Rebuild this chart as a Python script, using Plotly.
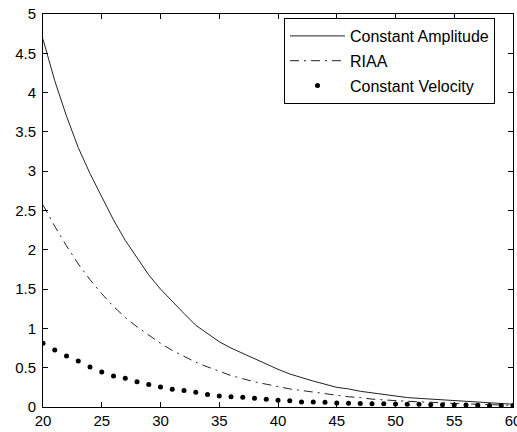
import plotly.graph_objects as go

x = list(range(20, 61))

constant_amplitude = [4.68, 4.15, 3.70, 3.30, 2.97, 2.67, 2.38, 2.12, 1.90, 1.68,
                      1.50, 1.34, 1.19, 1.04, 0.93, 0.83, 0.75, 0.68, 0.61, 0.54,
                      0.48, 0.42, 0.37, 0.33, 0.29, 0.25, 0.23, 0.20, 0.18, 0.16,
                      0.14, 0.12, 0.11, 0.10, 0.09, 0.08, 0.07, 0.06, 0.05, 0.04, 0.035]

riaa = [2.57, 2.30, 2.05, 1.82, 1.62, 1.44, 1.28, 1.14, 1.02, 0.91,
        0.81, 0.72, 0.64, 0.57, 0.51, 0.45, 0.40, 0.36, 0.32, 0.29,
        0.26, 0.23, 0.21, 0.19, 0.17, 0.15, 0.13, 0.12, 0.10, 0.09,
        0.08, 0.07, 0.065, 0.06, 0.05, 0.045, 0.04, 0.035, 0.03, 0.025, 0.02]

constant_velocity = [0.81, 0.725, 0.65, 0.585, 0.51, 0.445, 0.395, 0.365, 0.32, 0.285,
                     0.255, 0.225, 0.21, 0.187, 0.16, 0.14, 0.13, 0.125, 0.11, 0.10,
                     0.085, 0.08, 0.065, 0.064, 0.06, 0.05, 0.047, 0.045, 0.042, 0.04,
                     0.038, 0.036, 0.034, 0.03, 0.028, 0.026, 0.024, 0.022, 0.02, 0.019, 0.018]

series_names = ["Constant Amplitude", "RIAA", "Constant Velocity"]
x_ticks = [20, 25, 30, 35, 40, 45, 50, 55, 60]
y_ticks = [0, 0.5, 1, 1.5, 2, 2.5, 3, 3.5, 4, 4.5, 5]

fig = go.Figure()
fig.add_trace(go.Scatter(x=x, y=constant_amplitude, mode="lines", name=series_names[0],
                         legendgroup="a", line=dict(color="#222222", width=1)))
fig.add_trace(go.Scatter(x=x, y=riaa, mode="lines", name=series_names[1], legendgroup="b",
                         line=dict(color="#222222", width=1, dash="9px,5px,2px,5px")))
fig.add_trace(go.Scatter(x=x, y=constant_velocity, mode="markers", name=series_names[2],
                         legendgroup="c", marker=dict(color="#000000", size=5)))

axis_common = dict(showline=True, linecolor="black", linewidth=1, mirror="ticks",
                   ticks="inside", ticklen=5, tickcolor="black", showgrid=False,
                   zeroline=False, automargin=False, ticklabeloverflow="allow",
                   tickfont=dict(family="Liberation Sans, Arial", size=15, color="black"))

fig.update_layout(
    width=517, height=432,
    margin=dict(l=43, r=4, t=14, b=25),
    paper_bgcolor="white", plot_bgcolor="white",
    xaxis=dict(range=[20, 60], tickvals=x_ticks, ticktext=[str(v) for v in x_ticks], **axis_common),
    yaxis=dict(range=[0, 5], tickvals=y_ticks, ticktext=[f"{v:g}" for v in y_ticks],
               ticklabelstandoff=3, **axis_common),
    legend=dict(x=(284 - 43) / 470, y=1 - (18 - 14) / 393, xanchor="left", yanchor="top",
                bgcolor="white", bordercolor="black", borderwidth=1,
                font=dict(family="Liberation Sans, Arial", size=16, color="black"),
                itemwidth=55, tracegroupgap=1, entrywidth=150, entrywidthmode="pixels"),
    showlegend=True,
)

fig.write_html("out.html", config={"displayModeBar": False})

# remove the default page margin so the figure sits at the window's top-left corner
with open("out.html", "r", encoding="utf-8") as f:
    html = f.read()
html = html.replace("<body>", '<body style="margin:0;padding:0;">', 1)
with open("out.html", "w", encoding="utf-8") as f:
    f.write(html)
